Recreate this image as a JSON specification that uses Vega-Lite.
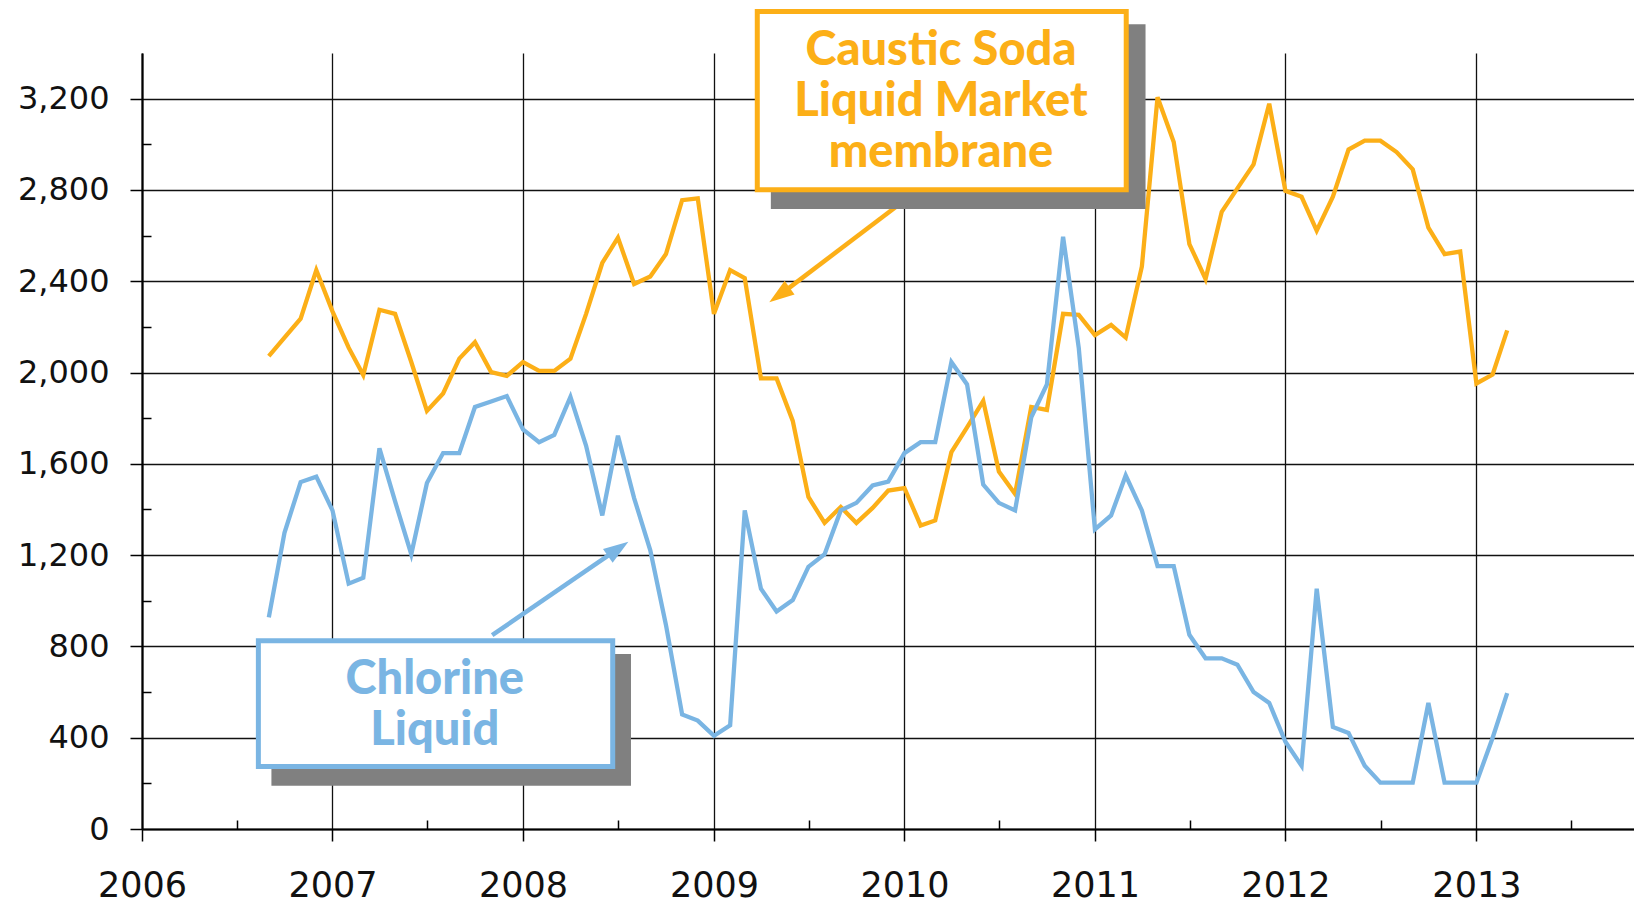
{
  "$schema": "https://vega.github.io/schema/vega-lite/v6.json",
  "autosize": {"type": "none"},
  "padding": {"left": 142, "top": 53, "right": 0, "bottom": 74},
  "width": 1492,
  "height": 776,
  "background": "white",
  "config": {"view": {"stroke": null}, "axis": {"title": null}},
  "datasets": {
    "prices": [
      {"date": "2006-09-01", "series": "Caustic Soda", "value": 2072},
      {"date": "2006-10-01", "series": "Caustic Soda", "value": 2153},
      {"date": "2006-11-01", "series": "Caustic Soda", "value": 2236},
      {"date": "2006-12-01", "series": "Caustic Soda", "value": 2449},
      {"date": "2007-01-01", "series": "Caustic Soda", "value": 2268},
      {"date": "2007-02-01", "series": "Caustic Soda", "value": 2109},
      {"date": "2007-03-01", "series": "Caustic Soda", "value": 1989},
      {"date": "2007-04-01", "series": "Caustic Soda", "value": 2275},
      {"date": "2007-05-01", "series": "Caustic Soda", "value": 2257},
      {"date": "2007-06-01", "series": "Caustic Soda", "value": 2046},
      {"date": "2007-07-01", "series": "Caustic Soda", "value": 1832},
      {"date": "2007-08-01", "series": "Caustic Soda", "value": 1908},
      {"date": "2007-09-01", "series": "Caustic Soda", "value": 2061},
      {"date": "2007-10-01", "series": "Caustic Soda", "value": 2133},
      {"date": "2007-11-01", "series": "Caustic Soda", "value": 2002},
      {"date": "2007-12-01", "series": "Caustic Soda", "value": 1985},
      {"date": "2008-01-01", "series": "Caustic Soda", "value": 2046},
      {"date": "2008-02-01", "series": "Caustic Soda", "value": 2007},
      {"date": "2008-03-01", "series": "Caustic Soda", "value": 2007},
      {"date": "2008-04-01", "series": "Caustic Soda", "value": 2061},
      {"date": "2008-05-01", "series": "Caustic Soda", "value": 2257},
      {"date": "2008-06-01", "series": "Caustic Soda", "value": 2480},
      {"date": "2008-07-01", "series": "Caustic Soda", "value": 2591},
      {"date": "2008-08-01", "series": "Caustic Soda", "value": 2388},
      {"date": "2008-09-01", "series": "Caustic Soda", "value": 2421},
      {"date": "2008-10-01", "series": "Caustic Soda", "value": 2519},
      {"date": "2008-11-01", "series": "Caustic Soda", "value": 2755},
      {"date": "2008-12-01", "series": "Caustic Soda", "value": 2763},
      {"date": "2009-01-01", "series": "Caustic Soda", "value": 2257},
      {"date": "2009-02-01", "series": "Caustic Soda", "value": 2449},
      {"date": "2009-03-01", "series": "Caustic Soda", "value": 2414},
      {"date": "2009-04-01", "series": "Caustic Soda", "value": 1974},
      {"date": "2009-05-01", "series": "Caustic Soda", "value": 1974},
      {"date": "2009-06-01", "series": "Caustic Soda", "value": 1788},
      {"date": "2009-07-01", "series": "Caustic Soda", "value": 1455},
      {"date": "2009-08-01", "series": "Caustic Soda", "value": 1341},
      {"date": "2009-09-01", "series": "Caustic Soda", "value": 1411},
      {"date": "2009-10-01", "series": "Caustic Soda", "value": 1341},
      {"date": "2009-11-01", "series": "Caustic Soda", "value": 1407},
      {"date": "2009-12-01", "series": "Caustic Soda", "value": 1483},
      {"date": "2010-01-01", "series": "Caustic Soda", "value": 1494},
      {"date": "2010-02-01", "series": "Caustic Soda", "value": 1330},
      {"date": "2010-03-01", "series": "Caustic Soda", "value": 1352},
      {"date": "2010-04-01", "series": "Caustic Soda", "value": 1651},
      {"date": "2010-05-01", "series": "Caustic Soda", "value": 1760},
      {"date": "2010-06-01", "series": "Caustic Soda", "value": 1876},
      {"date": "2010-07-01", "series": "Caustic Soda", "value": 1566},
      {"date": "2010-08-01", "series": "Caustic Soda", "value": 1468},
      {"date": "2010-09-01", "series": "Caustic Soda", "value": 1849},
      {"date": "2010-10-01", "series": "Caustic Soda", "value": 1836},
      {"date": "2010-11-01", "series": "Caustic Soda", "value": 2257},
      {"date": "2010-12-01", "series": "Caustic Soda", "value": 2253},
      {"date": "2011-01-01", "series": "Caustic Soda", "value": 2164},
      {"date": "2011-02-01", "series": "Caustic Soda", "value": 2209},
      {"date": "2011-03-01", "series": "Caustic Soda", "value": 2153},
      {"date": "2011-04-01", "series": "Caustic Soda", "value": 2465},
      {"date": "2011-05-01", "series": "Caustic Soda", "value": 3206},
      {"date": "2011-06-01", "series": "Caustic Soda", "value": 3010},
      {"date": "2011-07-01", "series": "Caustic Soda", "value": 2563},
      {"date": "2011-08-01", "series": "Caustic Soda", "value": 2410},
      {"date": "2011-09-01", "series": "Caustic Soda", "value": 2704},
      {"date": "2011-10-01", "series": "Caustic Soda", "value": 2807},
      {"date": "2011-11-01", "series": "Caustic Soda", "value": 2912},
      {"date": "2011-12-01", "series": "Caustic Soda", "value": 3178},
      {"date": "2012-01-01", "series": "Caustic Soda", "value": 2796},
      {"date": "2012-02-01", "series": "Caustic Soda", "value": 2770},
      {"date": "2012-03-01", "series": "Caustic Soda", "value": 2622},
      {"date": "2012-04-01", "series": "Caustic Soda", "value": 2770},
      {"date": "2012-05-01", "series": "Caustic Soda", "value": 2977},
      {"date": "2012-06-01", "series": "Caustic Soda", "value": 3016},
      {"date": "2012-07-01", "series": "Caustic Soda", "value": 3016},
      {"date": "2012-08-01", "series": "Caustic Soda", "value": 2966},
      {"date": "2012-09-01", "series": "Caustic Soda", "value": 2890},
      {"date": "2012-10-01", "series": "Caustic Soda", "value": 2635},
      {"date": "2012-11-01", "series": "Caustic Soda", "value": 2519},
      {"date": "2012-12-01", "series": "Caustic Soda", "value": 2530},
      {"date": "2013-01-01", "series": "Caustic Soda", "value": 1952},
      {"date": "2013-02-01", "series": "Caustic Soda", "value": 1991},
      {"date": "2013-03-01", "series": "Caustic Soda", "value": 2185},
      {"date": "2006-09-01", "series": "Chlorine", "value": 927},
      {"date": "2006-10-01", "series": "Chlorine", "value": 1298},
      {"date": "2006-11-01", "series": "Chlorine", "value": 1520},
      {"date": "2006-12-01", "series": "Chlorine", "value": 1544},
      {"date": "2007-01-01", "series": "Chlorine", "value": 1396},
      {"date": "2007-02-01", "series": "Chlorine", "value": 1075},
      {"date": "2007-03-01", "series": "Chlorine", "value": 1101},
      {"date": "2007-04-01", "series": "Chlorine", "value": 1668},
      {"date": "2007-05-01", "series": "Chlorine", "value": 1435},
      {"date": "2007-06-01", "series": "Chlorine", "value": 1204},
      {"date": "2007-07-01", "series": "Chlorine", "value": 1516},
      {"date": "2007-08-01", "series": "Chlorine", "value": 1647},
      {"date": "2007-09-01", "series": "Chlorine", "value": 1647},
      {"date": "2007-10-01", "series": "Chlorine", "value": 1849},
      {"date": "2007-11-01", "series": "Chlorine", "value": 1873},
      {"date": "2007-12-01", "series": "Chlorine", "value": 1897},
      {"date": "2008-01-01", "series": "Chlorine", "value": 1751},
      {"date": "2008-02-01", "series": "Chlorine", "value": 1695},
      {"date": "2008-03-01", "series": "Chlorine", "value": 1727},
      {"date": "2008-04-01", "series": "Chlorine", "value": 1893},
      {"date": "2008-05-01", "series": "Chlorine", "value": 1679},
      {"date": "2008-06-01", "series": "Chlorine", "value": 1374},
      {"date": "2008-07-01", "series": "Chlorine", "value": 1723},
      {"date": "2008-08-01", "series": "Chlorine", "value": 1450},
      {"date": "2008-09-01", "series": "Chlorine", "value": 1221},
      {"date": "2008-10-01", "series": "Chlorine", "value": 894},
      {"date": "2008-11-01", "series": "Chlorine", "value": 502},
      {"date": "2008-12-01", "series": "Chlorine", "value": 475},
      {"date": "2009-01-01", "series": "Chlorine", "value": 408},
      {"date": "2009-02-01", "series": "Chlorine", "value": 454},
      {"date": "2009-03-01", "series": "Chlorine", "value": 1396},
      {"date": "2009-04-01", "series": "Chlorine", "value": 1053},
      {"date": "2009-05-01", "series": "Chlorine", "value": 953},
      {"date": "2009-06-01", "series": "Chlorine", "value": 1003},
      {"date": "2009-07-01", "series": "Chlorine", "value": 1149},
      {"date": "2009-08-01", "series": "Chlorine", "value": 1204},
      {"date": "2009-09-01", "series": "Chlorine", "value": 1396},
      {"date": "2009-10-01", "series": "Chlorine", "value": 1429},
      {"date": "2009-11-01", "series": "Chlorine", "value": 1505},
      {"date": "2009-12-01", "series": "Chlorine", "value": 1522},
      {"date": "2010-01-01", "series": "Chlorine", "value": 1647},
      {"date": "2010-02-01", "series": "Chlorine", "value": 1695},
      {"date": "2010-03-01", "series": "Chlorine", "value": 1695},
      {"date": "2010-04-01", "series": "Chlorine", "value": 2046},
      {"date": "2010-05-01", "series": "Chlorine", "value": 1948},
      {"date": "2010-06-01", "series": "Chlorine", "value": 1509},
      {"date": "2010-07-01", "series": "Chlorine", "value": 1429},
      {"date": "2010-08-01", "series": "Chlorine", "value": 1396},
      {"date": "2010-09-01", "series": "Chlorine", "value": 1804},
      {"date": "2010-10-01", "series": "Chlorine", "value": 1948},
      {"date": "2010-11-01", "series": "Chlorine", "value": 2595},
      {"date": "2010-12-01", "series": "Chlorine", "value": 2109},
      {"date": "2011-01-01", "series": "Chlorine", "value": 1313},
      {"date": "2011-02-01", "series": "Chlorine", "value": 1374},
      {"date": "2011-03-01", "series": "Chlorine", "value": 1549},
      {"date": "2011-04-01", "series": "Chlorine", "value": 1396},
      {"date": "2011-05-01", "series": "Chlorine", "value": 1152},
      {"date": "2011-06-01", "series": "Chlorine", "value": 1152},
      {"date": "2011-07-01", "series": "Chlorine", "value": 851},
      {"date": "2011-08-01", "series": "Chlorine", "value": 748},
      {"date": "2011-09-01", "series": "Chlorine", "value": 748},
      {"date": "2011-10-01", "series": "Chlorine", "value": 720},
      {"date": "2011-11-01", "series": "Chlorine", "value": 600},
      {"date": "2011-12-01", "series": "Chlorine", "value": 552},
      {"date": "2012-01-01", "series": "Chlorine", "value": 382},
      {"date": "2012-02-01", "series": "Chlorine", "value": 277},
      {"date": "2012-03-01", "series": "Chlorine", "value": 1053},
      {"date": "2012-04-01", "series": "Chlorine", "value": 447},
      {"date": "2012-05-01", "series": "Chlorine", "value": 421},
      {"date": "2012-06-01", "series": "Chlorine", "value": 277},
      {"date": "2012-07-01", "series": "Chlorine", "value": 203},
      {"date": "2012-08-01", "series": "Chlorine", "value": 203},
      {"date": "2012-09-01", "series": "Chlorine", "value": 203},
      {"date": "2012-10-01", "series": "Chlorine", "value": 552},
      {"date": "2012-11-01", "series": "Chlorine", "value": 203},
      {"date": "2012-12-01", "series": "Chlorine", "value": 203},
      {"date": "2013-01-01", "series": "Chlorine", "value": 203},
      {"date": "2013-02-01", "series": "Chlorine", "value": 399},
      {"date": "2013-03-01", "series": "Chlorine", "value": 595}
    ],
    "boxes": [
      {"series": "Caustic Soda", "start": "2009-03-25", "end": "2011-03-02", "top": 3582, "bottom": 2801},
      {"series": "Chlorine", "start": "2006-08-12", "end": "2008-06-21", "top": 825, "bottom": 274}
    ],
    "shadows": [
      {"series": "Caustic Soda", "start": "2009-04-20", "end": "2011-04-08", "top": 3526, "bottom": 2716},
      {"series": "Chlorine", "start": "2006-09-06", "end": "2008-07-26", "top": 767, "bottom": 190}
    ],
    "labels": [
      {"series": "Caustic Soda", "date": "2010-03-12", "value": 3347, "text": "Caustic Soda\nLiquid Market\nmembrane"},
      {"series": "Chlorine", "date": "2007-07-16", "value": 592, "text": "Chlorine\nLiquid"}
    ],
    "arrows": [
      {"series": "Caustic Soda", "from": "2010-01-02", "fromValue": 2756, "to": "2009-05-18", "toValue": 2359, "tip": "2009-04-17", "tipValue": 2308, "angle": 234.4},
      {"series": "Chlorine", "from": "2007-11-03", "fromValue": 849, "to": "2008-06-19", "toValue": 1209, "tip": "2008-07-21", "tipValue": 1259, "angle": 55.3}
    ]
  },
  "resolve": {"axis": {"x": "independent", "y": "independent"}},
  "layer": [
    {
      "data": {"name": "prices"},
      "mark": {"type": "line", "strokeWidth": 4.3, "strokeJoin": "miter", "clip": false},
      "encoding": {
        "x": {
          "field": "date", "type": "temporal",
          "scale": {"type": "utc", "nice": false, "domain": [{"year": 2006, "month": 1, "date": 1, "utc": true}, {"year": 2013, "month": 10, "date": 30, "utc": true}]},
          "axis": {
            "values": [
              {"year": 2006, "month": 1, "date": 1, "utc": true},
              {"year": 2007, "month": 1, "date": 1, "utc": true},
              {"year": 2008, "month": 1, "date": 1, "utc": true},
              {"year": 2009, "month": 1, "date": 1, "utc": true},
              {"year": 2010, "month": 1, "date": 1, "utc": true},
              {"year": 2011, "month": 1, "date": 1, "utc": true},
              {"year": 2012, "month": 1, "date": 1, "utc": true},
              {"year": 2013, "month": 1, "date": 1, "utc": true}
            ],
            "format": "%Y", "title": null,
            "grid": true, "gridColor": "#111111", "gridWidth": 1.3, "gridOpacity": 1,
            "domain": true, "domainColor": "#000000", "domainWidth": 2.2,
            "ticks": true, "tickColor": "#000000", "tickWidth": 1.5, "tickSize": 12,
            "labelFont": "DejaVu Sans", "labelFontSize": 35, "labelColor": "#111111",
            "labelPadding": 27, "labelFlush": false, "labelOverlap": false, "labelBound": false
          }
        },
        "y": {
          "field": "value", "type": "quantitative",
          "scale": {"domain": [0, 3400], "nice": false, "zero": false},
          "axis": {
            "values": [0, 400, 800, 1200, 1600, 2000, 2400, 2800, 3200],
            "format": ",.0f", "title": null,
            "grid": true, "gridColor": "#111111", "gridWidth": 1.3, "gridOpacity": 1,
            "domain": true, "domainColor": "#000000", "domainWidth": 2.2,
            "ticks": true, "tickColor": "#000000", "tickWidth": 1.5, "tickSize": 12,
            "labelFont": "DejaVu Sans", "labelFontSize": 32, "labelColor": "#111111",
            "labelPadding": 21, "labelFlush": false, "labelOverlap": false, "labelBound": false
          }
        },
        "color": {"field": "series", "type": "nominal", "scale": {"domain": ["Caustic Soda", "Chlorine"], "range": ["#FCAF17", "#7AB5E3"]}, "legend": null}
      }
    },
    {
      "mark": {"type": "rule", "color": "#000000", "strokeWidth": 1.5},
      "encoding": {"y": {"datum": 3400, "type": "quantitative", "axis": null}}
    },
    {
      "data": {"name": "arrows"},
      "mark": {"type": "rule", "strokeWidth": 4.5, "strokeCap": "butt", "clip": false},
      "encoding": {
        "x": {"field": "from", "type": "temporal", "axis": null},
        "x2": {"field": "to"},
        "y": {"field": "fromValue", "type": "quantitative", "axis": null},
        "y2": {"field": "toValue"},
        "color": {"field": "series", "type": "nominal", "scale": {"domain": ["Caustic Soda", "Chlorine"], "range": ["#FCAF17", "#7AB5E3"]}, "legend": null}
      }
    },
    {
      "data": {"name": "arrows"},
      "mark": {"type": "point", "filled": true, "opacity": 1, "size": 2500, "shape": "M0,0L-0.34,1L0.34,1Z", "strokeWidth": 0, "clip": false},
      "encoding": {
        "x": {"field": "tip", "type": "temporal", "axis": null},
        "y": {"field": "tipValue", "type": "quantitative", "axis": null},
        "angle": {"field": "angle", "type": "quantitative", "scale": null},
        "color": {"field": "series", "type": "nominal", "scale": {"domain": ["Caustic Soda", "Chlorine"], "range": ["#FCAF17", "#7AB5E3"]}, "legend": null}
      }
    },
    {
      "data": {"name": "shadows"},
      "mark": {"type": "rect", "fill": "#808080", "clip": false},
      "encoding": {
        "x": {
          "field": "start", "type": "temporal",
          "axis": {
            "orient": "bottom", "title": null,
            "values": [
              {"year": 2006, "month": 7, "date": 2, "utc": true},
              {"year": 2007, "month": 7, "date": 2, "utc": true},
              {"year": 2008, "month": 7, "date": 2, "utc": true},
              {"year": 2009, "month": 7, "date": 2, "utc": true},
              {"year": 2010, "month": 7, "date": 2, "utc": true},
              {"year": 2011, "month": 7, "date": 2, "utc": true},
              {"year": 2012, "month": 7, "date": 2, "utc": true},
              {"year": 2013, "month": 7, "date": 2, "utc": true}
            ],
            "grid": false, "domain": false, "labels": false,
            "ticks": true, "tickSize": -9, "tickColor": "#000000", "tickWidth": 1.5
          }
        },
        "x2": {"field": "end"},
        "y": {
          "field": "top", "type": "quantitative",
          "axis": {
            "orient": "left", "title": null,
            "values": [200, 600, 1000, 1400, 1800, 2200, 2600, 3000],
            "grid": false, "domain": false, "labels": false,
            "ticks": true, "tickSize": -9, "tickColor": "#000000", "tickWidth": 1.5
          }
        },
        "y2": {"field": "bottom"}
      }
    },
    {
      "data": {"name": "boxes"},
      "mark": {"type": "rect", "fill": "#ffffff", "strokeWidth": 5, "clip": false},
      "encoding": {
        "x": {"field": "start", "type": "temporal", "axis": null},
        "x2": {"field": "end"},
        "y": {"field": "top", "type": "quantitative", "axis": null},
        "y2": {"field": "bottom"},
        "stroke": {"field": "series", "type": "nominal", "scale": {"domain": ["Caustic Soda", "Chlorine"], "range": ["#FCAF17", "#7AB5E3"]}, "legend": null}
      }
    },
    {
      "data": {"name": "labels"},
      "mark": {"type": "text", "font": "Lato", "fontWeight": 900, "fontSize": 47, "lineHeight": 51, "lineBreak": "\n", "align": "center", "baseline": "alphabetic", "clip": false},
      "encoding": {
        "x": {"field": "date", "type": "temporal", "axis": null},
        "y": {"field": "value", "type": "quantitative", "axis": null},
        "text": {"field": "text", "type": "nominal"},
        "color": {"field": "series", "type": "nominal", "scale": {"domain": ["Caustic Soda", "Chlorine"], "range": ["#FCAF17", "#7AB5E3"]}, "legend": null}
      }
    }
  ]
}
